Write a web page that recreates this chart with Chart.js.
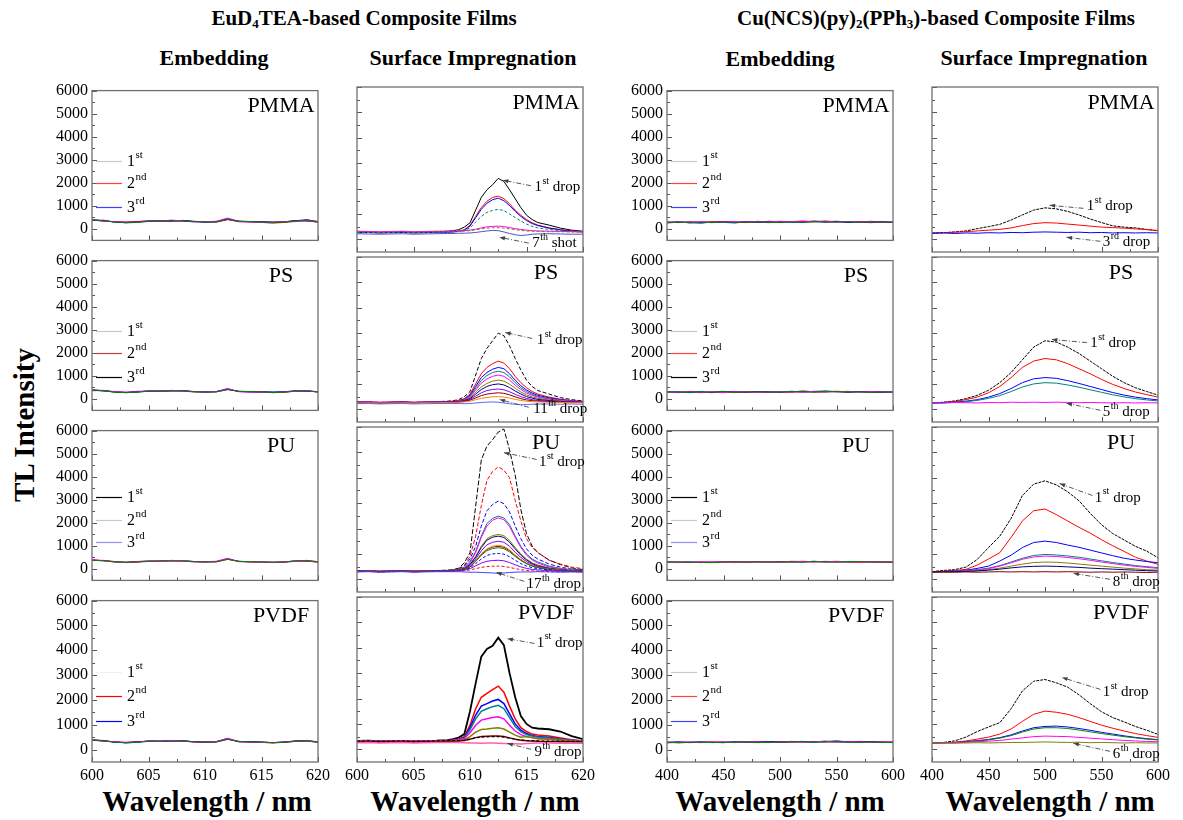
<!DOCTYPE html>
<html>
<head>
<meta charset="utf-8">
<title>TL Intensity of composite films</title>
<script src="https://cdn.jsdelivr.net/npm/chart.js@4.4.1/dist/chart.umd.min.js"></script>
<style>
html,body{margin:0;padding:0;background:#fff;}
body{width:1183px;height:820px;position:relative;overflow:hidden;font-family:"Liberation Serif","Times New Roman",serif;color:#000;}
.lbl{position:absolute;white-space:nowrap;font-weight:bold;transform:translate(-50%,-50%);line-height:1;}
.lbl sub{font-size:0.62em;vertical-align:-0.3em;line-height:0;}
canvas{position:absolute;}
</style>
</head>
<body>
<div class="lbl" style="left:364px;top:18px;font-size:21px">EuD<sub>4</sub>TEA-based Composite Films</div>
<div class="lbl" style="left:936px;top:18px;font-size:21px">Cu(NCS)(py)<sub>2</sub>(PPh<sub>3</sub>)-based Composite Films</div>
<div class="lbl" style="left:214px;top:58px;font-size:22px">Embedding</div>
<div class="lbl" style="left:473px;top:58px;font-size:22px">Surface Impregnation</div>
<div class="lbl" style="left:780px;top:59px;font-size:22px">Embedding</div>
<div class="lbl" style="left:1044px;top:58px;font-size:22px">Surface Impregnation</div>
<div class="lbl" style="left:24px;top:425px;font-size:29px;transform:translate(-50%,-50%) rotate(-90deg)">TL Intensity</div>
<div class="lbl" style="left:207px;top:801px;font-size:29px">Wavelength / nm</div>
<div class="lbl" style="left:475px;top:801px;font-size:29px">Wavelength / nm</div>
<div class="lbl" style="left:780px;top:801px;font-size:29px">Wavelength / nm</div>
<div class="lbl" style="left:1050px;top:801px;font-size:29px">Wavelength / nm</div>
<script>
// ---------------- axis values ----------------
const euEmbX = [600,601,602,603,604,605,606,607,608,609,610,611,612,613,614,615,616,617,618,619,620];
const euX = [600,601,602,603,604,605,606,607,608,608.5,609,609.5,610,610.5,611,611.5,612,612.5,613,613.5,614,614.5,615,615.5,616,617,618,619,620];
const cuX = [400,410,420,430,440,450,460,470,480,490,500,510,520,530,540,550,560,570,580,590,600];
const euTicks = [600,605,610,615,620];
const cuTicks = [400,450,500,550,600];
const yTicks = [0,1000,2000,3000,4000,5000,6000];
const panelNames = ['PMMA','PS','PU','PVDF'];

// ---------------- EuD4TEA, embedding ----------------
const euEmbPMMA_1 = [400,350,300,270,300,330,340,350,360,330,300,310,440,330,310,300,290,300,360,340,300];
const euEmbPMMA_2 = [360,380,290,300,320,340,320,370,340,310,320,300,400,320,300,280,250,280,320,380,320];
const euEmbPMMA_3 = [380,340,310,280,310,350,350,330,370,320,290,320,420,310,320,310,290,310,350,400,310];
const euEmbPMMA_4 = [420,330,320,290,290,340,330,380,350,300,310,330,470,320,300,290,270,310,330,350,290];
const euEmbPMMA_5 = [390,360,300,260,280,320,350,340,330,320,300,290,410,340,320,290,280,290,340,370,300];
const euEmbPS_1 = [390,360,310,280,310,340,330,360,350,320,300,320,430,320,300,310,300,310,350,330,310];
const euEmbPS_2 = [350,370,300,290,330,330,330,360,340,300,310,310,410,330,310,290,270,290,330,360,300];
const euEmbPS_3 = [370,350,300,270,300,340,340,340,360,310,300,310,420,320,310,300,280,300,340,350,300];
const euEmbPS_4 = [410,340,320,280,300,350,330,370,340,310,300,320,450,310,300,300,280,300,330,360,290];
const euEmbPS_5 = [380,350,290,270,290,330,340,350,340,320,290,300,400,330,320,300,270,290,340,350,310];
const euEmbPU_1 = [380,360,300,290,320,340,330,350,360,320,310,320,430,320,310,300,290,300,350,330,300];
const euEmbPU_2 = [360,370,310,280,310,330,340,360,340,310,300,310,410,330,300,290,280,290,330,370,310];
const euEmbPU_3 = [390,340,310,270,300,350,340,340,350,320,290,320,440,310,320,300,270,300,340,360,300];
const euEmbPU_4 = [410,350,300,280,290,340,320,370,350,300,310,330,460,320,300,290,280,310,320,350,290];
const euEmbPU_5 = [370,360,320,280,300,320,350,340,340,320,300,300,420,330,310,300,290,290,350,350,310];
const euEmbPVDF_1 = [400,360,300,280,310,340,330,360,350,320,310,320,440,320,310,300,280,300,350,340,300];
const euEmbPVDF_2 = [370,370,300,290,320,330,330,360,350,310,300,310,420,330,300,290,270,290,330,370,310];
const euEmbPVDF_3 = [380,340,310,270,300,350,340,340,360,310,290,320,430,310,320,300,280,310,340,360,300];
const euEmbPVDF_4 = [410,340,320,290,300,340,330,370,340,300,310,320,460,320,300,290,270,300,330,350,290];
const euEmbPVDF_5 = [390,350,300,270,290,330,350,340,340,320,300,300,410,330,310,300,280,290,340,360,310];

// ---------------- EuD4TEA, surface impregnation ----------------
const euSurfPMMA_1 = [290,300,270,280,300,270,290,300,320,340,380,480,650,1150,1650,1950,2150,2400,2280,1950,1600,1250,950,780,660,560,440,360,320];
const euSurfPMMA_2 = [270,280,260,270,280,260,270,290,290,300,320,380,550,900,1250,1500,1650,1700,1600,1400,1150,950,780,650,560,450,380,330,300];
const euSurfPMMA_3 = [260,270,250,260,270,250,260,280,280,290,310,360,520,850,1180,1420,1560,1620,1520,1330,1100,900,740,620,540,440,370,320,290];
const euSurfPMMA_4 = [280,270,260,270,280,270,280,280,290,300,310,350,450,680,900,1060,1140,1180,1130,1000,860,720,600,510,450,390,340,310,290];
const euSurfPMMA_5 = [320,310,300,310,320,300,310,320,320,330,330,340,360,400,450,490,510,520,500,460,420,390,360,340,330,320,310,300,300];
const euSurfPMMA_6 = [300,290,280,290,300,280,290,300,300,300,310,320,340,370,410,440,455,460,440,410,380,350,330,320,310,300,300,290,280];
const euSurfPMMA_7 = [220,210,200,210,220,200,210,220,230,230,240,240,250,270,300,330,350,340,290,230,180,150,170,200,210,220,210,200,200];

const euSurfPS_1 = [290,300,270,280,300,270,290,300,320,340,380,500,700,1350,2000,2400,2700,3000,2900,2500,2000,1550,1150,900,740,600,460,380,330];
const euSurfPS_2 = [280,290,270,280,290,270,280,290,300,320,350,420,600,1000,1400,1650,1800,1900,1820,1600,1300,1050,850,700,600,480,400,340,310];
const euSurfPS_3 = [270,280,260,270,280,260,270,280,290,300,330,400,550,900,1250,1450,1580,1650,1600,1400,1150,930,760,640,550,450,380,330,300];
const euSurfPS_4 = [280,270,260,270,280,270,280,280,290,300,320,380,520,830,1130,1330,1450,1500,1450,1280,1050,850,700,590,510,420,360,320,290];
const euSurfPS_5 = [300,290,280,290,300,280,290,300,300,310,320,370,490,760,1030,1200,1300,1350,1300,1150,950,780,640,550,480,400,350,320,300];
const euSurfPS_6 = [290,280,270,280,290,270,280,290,290,300,310,350,450,680,880,1020,1110,1150,1110,990,830,680,570,490,430,370,330,310,290];
const euSurfPS_7 = [280,270,260,270,280,260,270,280,280,290,300,340,420,600,780,900,970,1000,960,860,720,600,500,440,390,340,310,290,280];
const euSurfPS_8 = [270,280,260,270,280,270,280,280,290,290,300,330,390,520,650,740,780,800,770,690,590,500,430,380,350,320,300,290,280];
const euSurfPS_9 = [260,270,250,260,270,260,270,270,280,280,290,310,360,450,540,600,630,650,630,570,490,420,370,340,320,300,290,280,270];
const euSurfPS_10 = [250,260,250,250,260,250,260,260,270,270,280,290,320,380,430,470,490,500,480,440,390,350,320,300,290,280,270,260,260];
const euSurfPS_11 = [220,230,210,220,230,210,220,230,230,230,230,220,230,250,270,280,290,280,250,220,200,180,190,200,210,210,200,210,200];

const euSurfPU_1 = [340,330,320,330,340,320,330,340,360,380,440,650,1050,2880,4700,5250,5500,5800,5920,5100,4100,2750,1800,1310,1050,760,580,450,380];
const euSurfPU_2 = [330,320,320,330,330,320,330,340,350,370,420,560,900,1700,2900,3900,4250,4430,4300,4000,3100,2300,1600,1250,1050,750,600,480,420];
const euSurfPU_3 = [320,330,310,320,330,310,320,330,340,360,400,520,800,1300,2100,2700,2950,3080,2980,2650,2100,1600,1200,950,800,600,480,400,360];
const euSurfPU_4 = [330,320,310,320,330,320,330,340,350,360,390,480,700,1100,1700,2200,2400,2490,2420,2150,1700,1300,1000,800,680,520,430,380,350];
const euSurfPU_5 = [310,320,300,310,320,300,310,320,330,340,370,450,650,1050,1650,2100,2330,2420,2350,2080,1650,1250,950,760,640,490,410,360,330];
const euSurfPU_6 = [340,330,320,330,340,330,340,350,350,360,380,440,600,900,1300,1600,1720,1770,1720,1530,1250,1000,800,650,560,450,390,360,340];
const euSurfPU_7 = [320,310,300,310,320,300,310,320,330,340,360,420,580,870,1250,1540,1660,1700,1650,1460,1200,950,760,620,530,430,370,340,320];
const euSurfPU_8 = [330,320,310,320,330,310,320,330,340,350,370,420,540,800,1120,1360,1460,1500,1460,1300,1070,860,700,580,500,420,370,340,330];
const euSurfPU_9 = [320,330,310,320,330,320,330,330,340,350,360,400,500,720,980,1180,1270,1300,1260,1130,940,770,630,530,470,400,360,340,320];
const euSurfPU_10 = [310,320,300,310,320,310,320,320,330,340,350,390,490,730,1000,1200,1300,1340,1300,1160,960,780,640,540,470,400,360,330,310];
const euSurfPU_11 = [330,320,310,320,330,310,320,330,340,350,360,400,490,700,950,1130,1210,1245,1210,1080,900,740,610,520,460,390,350,330,320];
const euSurfPU_12 = [320,310,300,310,320,300,310,320,330,330,340,370,450,620,800,940,1000,1020,990,890,750,620,520,460,420,370,340,320,310];
const euSurfPU_13 = [310,320,300,310,320,300,310,320,320,330,340,360,420,530,640,710,740,750,730,660,570,490,430,390,370,340,320,310,300];
const euSurfPU_14 = [300,310,290,300,310,300,310,310,320,320,330,340,370,420,470,500,515,520,505,470,420,380,350,330,320,310,300,300,290];
const euSurfPU_17 = [290,300,280,290,300,280,290,300,300,300,300,290,280,280,270,260,250,235,250,270,280,290,290,290,300,290,280,290,280];

const euSurfPVDF_1 = [330,340,320,330,320,310,330,340,360,400,460,600,1500,2600,3650,3950,4080,4400,4100,3000,2050,1310,1000,850,820,790,700,520,400];
const euSurfPVDF_2 = [320,330,310,320,330,300,320,330,340,360,400,500,950,1600,2050,2200,2350,2490,2250,1700,1200,850,700,600,560,520,450,380,330];
const euSurfPVDF_3 = [310,320,300,310,320,290,310,320,330,350,380,470,850,1350,1700,1800,1900,1965,1800,1400,1000,750,620,540,500,470,410,360,320];
const euSurfPVDF_4 = [330,320,310,320,330,310,320,330,340,350,380,450,780,1200,1500,1600,1680,1730,1600,1250,900,700,580,520,480,450,400,360,330];
const euSurfPVDF_5 = [340,330,320,330,340,320,330,340,350,360,380,430,650,950,1150,1200,1250,1285,1200,950,720,580,500,460,430,410,370,340,320];
const euSurfPVDF_6 = [310,320,300,310,320,300,310,320,330,340,350,380,500,680,780,800,830,850,800,680,560,480,500,460,420,400,370,340,320];
const euSurfPVDF_7 = [300,310,290,300,310,290,300,310,320,320,330,350,400,460,500,510,520,525,500,450,400,360,340,330,320,310,300,300,290];
const euSurfPVDF_8 = [320,330,310,320,330,310,320,330,330,340,340,360,400,450,480,490,500,500,480,440,400,370,350,340,330,320,320,310,310];
const euSurfPVDF_9 = [260,270,250,260,270,250,260,270,270,270,270,260,250,250,240,250,250,240,230,220,220,210,230,240,250,250,240,250,240];

// ---------------- Cu complex, embedding ----------------
const cuEmbPMMA_1 = [280,310,260,300,270,320,290,310,280,330,300,320,290,340,310,330,300,320,290,310,280];
const cuEmbPMMA_2 = [300,270,310,280,320,290,300,270,330,300,280,320,330,300,340,310,320,290,330,300,290];
const cuEmbPMMA_3 = [260,290,270,250,300,280,260,300,290,270,310,290,300,320,290,310,280,300,270,290,300];
const cuEmbPMMA_4 = [290,300,280,310,290,300,320,290,310,300,330,310,340,320,330,300,320,310,300,290,310];
const cuEmbPMMA_5 = [270,280,300,270,280,300,270,290,300,280,290,300,280,310,300,290,310,280,290,300,280];
const cuEmbPS_1 = [290,300,270,310,280,300,320,290,300,310,290,330,300,320,340,310,300,320,310,290,300];
const cuEmbPS_2 = [270,300,290,270,310,290,280,310,290,320,300,290,320,300,310,330,310,300,290,310,280];
const cuEmbPS_3 = [300,280,310,290,270,310,300,280,320,290,310,300,340,310,300,320,290,310,300,280,300];
const cuEmbPS_4 = [280,270,300,280,300,270,310,300,280,300,320,310,290,330,320,300,330,290,320,300,290];
const cuEmbPS_5 = [310,290,280,300,290,320,280,300,310,290,300,320,310,290,330,320,300,310,280,310,290];
const cuEmbPU_1 = [300,280,310,270,300,290,310,280,300,320,290,310,300,330,300,320,290,310,300,290,300];
const cuEmbPU_2 = [280,300,270,300,280,310,290,300,320,290,310,300,330,310,320,300,320,290,310,300,280];
const cuEmbPU_3 = [290,270,300,290,310,280,300,290,280,310,320,290,310,300,330,310,300,320,290,310,300];
const cuEmbPU_4 = [270,290,280,310,290,300,270,310,300,300,290,330,320,300,310,330,310,300,320,290,310];
const cuEmbPU_5 = [310,300,290,280,270,300,310,290,310,290,310,300,290,320,300,290,320,310,300,300,290];
const cuEmbPVDF_1 = [290,310,280,300,290,280,310,300,290,320,300,310,330,300,320,350,310,300,320,300,290];
const cuEmbPVDF_2 = [300,280,300,280,310,300,290,310,300,290,320,300,310,330,300,320,330,310,300,290,310];
const cuEmbPVDF_3 = [280,300,290,310,280,300,300,290,320,300,310,330,300,310,340,310,300,330,310,300,290];
const cuEmbPVDF_4 = [270,290,310,290,300,310,280,300,310,280,300,320,310,320,330,300,320,310,290,310,300];
const cuEmbPVDF_5 = [300,270,290,300,290,280,300,310,280,300,290,310,320,300,310,320,300,290,310,290,280];

// ---------------- Cu complex, surface impregnation ----------------
const cuSurfPMMA_1 = [240,260,290,330,420,500,590,760,960,1150,1240,1200,1100,960,800,660,530,480,450,390,330];
const cuSurfPMMA_2 = [250,260,280,300,330,360,390,450,540,620,655,640,600,560,520,480,460,440,410,380,350];
const cuSurfPMMA_3 = [240,250,230,250,240,260,250,270,260,280,290,280,270,280,260,270,250,260,250,260,250];
const cuSurfPS_1 = [250,280,330,420,550,750,1050,1450,1950,2450,2700,2650,2450,2200,1900,1600,1300,1050,850,700,560];
const cuSurfPS_2 = [250,270,310,380,480,650,900,1250,1650,1900,2000,1950,1800,1600,1400,1180,980,820,680,580,480];
const cuSurfPS_3 = [250,260,280,320,380,480,620,820,1050,1200,1250,1220,1130,1020,900,780,660,560,480,420,370];
const cuSurfPS_4 = [240,250,270,300,350,430,540,700,880,1000,1050,1030,960,870,770,670,570,490,420,370,330];
const cuSurfPS_5 = [260,250,270,260,250,270,260,280,270,280,270,280,270,260,270,260,250,260,250,260,250];
const cuSurfPU_1 = [300,350,380,480,780,1250,1700,2400,3300,3750,3880,3720,3450,3100,2600,2150,1800,1550,1300,1110,850];
const cuSurfPU_2 = [300,320,350,390,560,800,1050,1650,2300,2700,2770,2550,2300,2050,1820,1560,1320,1100,870,720,590];
const cuSurfPU_3 = [300,310,330,360,430,520,720,950,1250,1450,1505,1450,1350,1260,1150,1040,930,830,760,700,655];
const cuSurfPU_4 = [300,310,320,340,380,440,540,680,830,940,980,960,920,870,800,730,660,600,540,500,460];
const cuSurfPU_5 = [290,300,310,330,370,420,520,650,790,880,915,900,860,810,750,680,620,560,510,470,430];
const cuSurfPU_6 = [290,300,300,320,340,380,440,520,600,660,680,670,640,600,560,520,480,440,410,380,360];
const cuSurfPU_7 = [300,290,300,310,330,360,400,450,490,510,520,510,490,470,440,420,400,380,360,340,330];
const cuSurfPU_8 = [280,290,280,290,280,290,300,290,300,290,300,290,300,290,280,290,280,290,280,270,280];
const cuSurfPVDF_1 = [250,270,330,480,700,880,1050,1600,2300,2680,2750,2620,2450,2150,1800,1480,1250,1080,900,750,590];
const cuSurfPVDF_2 = [250,260,280,330,400,480,600,800,1100,1380,1505,1460,1380,1250,1100,950,830,720,620,540,470];
const cuSurfPVDF_3 = [250,260,270,300,340,390,460,570,720,850,900,915,880,820,750,670,600,530,470,420,380];
const cuSurfPVDF_4 = [240,250,260,290,330,370,440,540,680,800,850,850,820,760,690,620,560,500,450,400,370];
const cuSurfPVDF_5 = [250,260,260,280,300,320,350,400,450,500,520,510,500,470,440,410,380,350,330,310,300];
const cuSurfPVDF_6 = [240,250,240,250,260,250,260,270,270,280,290,280,270,280,260,270,260,250,260,250,250];

// ---------------- layout & styles ----------------
const FONT = '"Liberation Serif","Times New Roman",serif';
Chart.defaults.font.family = FONT;
Chart.defaults.color = '#000';
const COLS = [92, 357, 667, 932], ROWS = [87, 257, 427, 597], PW = 226, PH = 165;

function S(xs, ys, color, width, dash) {
  return { data: xs.map((x, i) => ({ x: x, y: ys[i] })), borderColor: color, borderWidth: width || 1,
    borderDash: dash || [], pointRadius: 0, fill: false, tension: 0 };
}
const embLegendHi = [2950, 1970, 970], embLegendLo = [3120, 2140, 1160];

const panels = [
  // ---- EuD4TEA embedding ----
  { col:0, row:0, xr:[600,620], xt:euTicks, sets:[
      S(euEmbX,euEmbPMMA_5,'#008000'), S(euEmbX,euEmbPMMA_4,'#ff00ff'), S(euEmbX,euEmbPMMA_1,'#000080'),
      S(euEmbX,euEmbPMMA_2,'#ff0000'), S(euEmbX,euEmbPMMA_3,'#0000ff')],
    legend:[['1','st','#c8c8c8'],['2','nd','#ff4040'],['3','rd','#4040ff']], ly:embLegendHi, notes:[] },
  { col:0, row:1, xr:[600,620], xt:euTicks, sets:[
      S(euEmbX,euEmbPS_5,'#008000'), S(euEmbX,euEmbPS_4,'#ff00ff'), S(euEmbX,euEmbPS_1,'#0000ff'),
      S(euEmbX,euEmbPS_2,'#c04040'), S(euEmbX,euEmbPS_3,'#000000')],
    legend:[['1','st','#c8c8c8'],['2','nd','#c04040'],['3','rd','#000000']], ly:embLegendHi, notes:[] },
  { col:0, row:2, xr:[600,620], xt:euTicks, sets:[
      S(euEmbX,euEmbPU_5,'#008000'), S(euEmbX,euEmbPU_4,'#ff00ff'), S(euEmbX,euEmbPU_2,'#ff0000'),
      S(euEmbX,euEmbPU_3,'#8080ff'), S(euEmbX,euEmbPU_1,'#000000')],
    legend:[['1','st','#000000'],['2','nd','#c8c8c8'],['3','rd','#9090ff']], ly:embLegendLo, notes:[] },
  { col:0, row:3, xr:[600,620], xt:euTicks, sets:[
      S(euEmbX,euEmbPVDF_5,'#008000'), S(euEmbX,euEmbPVDF_4,'#ff00ff'), S(euEmbX,euEmbPVDF_1,'#000080'),
      S(euEmbX,euEmbPVDF_2,'#ff0000'), S(euEmbX,euEmbPVDF_3,'#0000ff')],
    legend:[['1','st','#f0f0f0'],['2','nd','#ff0000'],['3','rd','#0000ff']], ly:embLegendLo, notes:[] },
  // ---- EuD4TEA surface ----
  { col:1, row:0, xr:[600,620], xt:euTicks, sets:[
      S(euX,euSurfPMMA_7,'#5050d0'), S(euX,euSurfPMMA_6,'#808000',1,[3,2]), S(euX,euSurfPMMA_5,'#ff00ff'),
      S(euX,euSurfPMMA_4,'#008080',1,[3,2]), S(euX,euSurfPMMA_3,'#0000ff'), S(euX,euSurfPMMA_2,'#ff0000'),
      S(euX,euSurfPMMA_1,'#000000')],
    legend:[], notes:[['1','st',' drop',615.7,2040,615.4,2110,612.9,2330],['7','th',' shot',615.5,-160,615.2,-150,612.6,80]] },
  { col:1, row:1, xr:[600,620], xt:euTicks, sets:[
      S(euX,euSurfPS_11,'#6060ff'), S(euX,euSurfPS_10,'#ff8000'), S(euX,euSurfPS_9,'#800000'),
      S(euX,euSurfPS_8,'#8000ff'), S(euX,euSurfPS_7,'#000080'), S(euX,euSurfPS_6,'#808000'),
      S(euX,euSurfPS_5,'#ff00ff'), S(euX,euSurfPS_4,'#008080'), S(euX,euSurfPS_3,'#0000ff'),
      S(euX,euSurfPS_2,'#ff0000'), S(euX,euSurfPS_1,'#000000',1,[4,2])],
    legend:[], notes:[['1','st',' drop',615.9,2710,615.5,2790,613.1,3030],['11','th',' drop',615.6,0,615.2,80,612.6,390]] },
  { col:1, row:2, xr:[600,620], xt:euTicks, sets:[
      S(euX,euSurfPU_17,'#4040ff'), S(euX,euSurfPU_14,'#ff0000',1,[3,2]), S(euX,euSurfPU_13,'#8000ff'),
      S(euX,euSurfPU_12,'#0000ff',1,[3,2]), S(euX,euSurfPU_11,'#008000'), S(euX,euSurfPU_10,'#ff8000'),
      S(euX,euSurfPU_9,'#800000'), S(euX,euSurfPU_8,'#8000ff'), S(euX,euSurfPU_7,'#000080'),
      S(euX,euSurfPU_6,'#808000'), S(euX,euSurfPU_5,'#ff00ff'), S(euX,euSurfPU_4,'#008080'),
      S(euX,euSurfPU_3,'#0000ff',1,[4,2]), S(euX,euSurfPU_2,'#ff0000',1,[4,2]), S(euX,euSurfPU_1,'#000000',1,[5,2])],
    legend:[], notes:[['1','st',' drop',616.1,4600,615.9,4720,613.0,4990],['17','th',' drop',615.0,-200,614.8,-80,612.3,275]] },
  { col:1, row:3, xr:[600,620], xt:euTicks, sets:[
      S(euX,euSurfPVDF_9,'#ff60b0',1.5), S(euX,euSurfPVDF_8,'#000000',1.2,[3,2]), S(euX,euSurfPVDF_7,'#800000',1.5),
      S(euX,euSurfPVDF_6,'#808000',1.5), S(euX,euSurfPVDF_5,'#ff00ff',1.5), S(euX,euSurfPVDF_4,'#008080',1.5),
      S(euX,euSurfPVDF_3,'#0000ff',1.5), S(euX,euSurfPVDF_2,'#ff0000',1.5), S(euX,euSurfPVDF_1,'#000000',1.8)],
    legend:[], notes:[['1','st',' drop',615.9,4200,615.7,4170,613.3,4360],['9','th',' drop',615.7,-120,615.4,0,613.3,235]] },
  // ---- Cu embedding ----
  { col:2, row:0, xr:[400,600], xt:cuTicks, sets:[
      S(cuX,cuEmbPMMA_5,'#008000'), S(cuX,cuEmbPMMA_4,'#ff00ff'), S(cuX,cuEmbPMMA_1,'#000080'),
      S(cuX,cuEmbPMMA_2,'#ff0000'), S(cuX,cuEmbPMMA_3,'#0000ff')],
    legend:[['1','st','#c8c8c8'],['2','nd','#ff4040'],['3','rd','#4040ff']], ly:embLegendHi, notes:[] },
  { col:2, row:1, xr:[400,600], xt:cuTicks, sets:[
      S(cuX,cuEmbPS_5,'#008000'), S(cuX,cuEmbPS_4,'#ff00ff'), S(cuX,cuEmbPS_1,'#0000ff'),
      S(cuX,cuEmbPS_2,'#ff0000'), S(cuX,cuEmbPS_3,'#000000')],
    legend:[['1','st','#c8c8c8'],['2','nd','#ff4040'],['3','rd','#000000']], ly:embLegendHi, notes:[] },
  { col:2, row:2, xr:[400,600], xt:cuTicks, sets:[
      S(cuX,cuEmbPU_5,'#008000'), S(cuX,cuEmbPU_4,'#ff00ff'), S(cuX,cuEmbPU_2,'#ff0000'),
      S(cuX,cuEmbPU_3,'#8080ff'), S(cuX,cuEmbPU_1,'#000000')],
    legend:[['1','st','#000000'],['2','nd','#c8c8c8'],['3','rd','#9090ff']], ly:embLegendLo, notes:[] },
  { col:2, row:3, xr:[400,600], xt:cuTicks, sets:[
      S(cuX,cuEmbPVDF_5,'#008000'), S(cuX,cuEmbPVDF_4,'#ff00ff'), S(cuX,cuEmbPVDF_1,'#000080'),
      S(cuX,cuEmbPVDF_2,'#ff0000'), S(cuX,cuEmbPVDF_3,'#0000ff')],
    legend:[['1','st','#c8c8c8'],['2','nd','#ff4040'],['3','rd','#4040ff']], ly:embLegendLo, notes:[] },
  // ---- Cu surface ----
  { col:3, row:0, xr:[400,600], xt:cuTicks, sets:[
      S(cuX,cuSurfPMMA_3,'#0000ff'), S(cuX,cuSurfPMMA_2,'#ff0000'), S(cuX,cuSurfPMMA_1,'#000000',1,[3,1])],
    legend:[], notes:[['1','st',' drop',537,1300,534,1220,504,1340],['3','rd',' drop',551,-120,549,-80,519,80]] },
  { col:3, row:1, xr:[400,600], xt:cuTicks, sets:[
      S(cuX,cuSurfPS_5,'#ff00ff'), S(cuX,cuSurfPS_4,'#008080'), S(cuX,cuSurfPS_3,'#0000ff'),
      S(cuX,cuSurfPS_2,'#ff0000'), S(cuX,cuSurfPS_1,'#000000',1,[3,1])],
    legend:[], notes:[['1','st',' drop',540,2600,537,2630,506,2750],['5','th',' drop',551,-120,549,-40,519,240]] },
  { col:3, row:2, xr:[400,600], xt:cuTicks, sets:[
      S(cuX,cuSurfPU_8,'#800000'), S(cuX,cuSurfPU_7,'#000080'), S(cuX,cuSurfPU_6,'#808000'),
      S(cuX,cuSurfPU_5,'#ff00ff'), S(cuX,cuSurfPU_4,'#008080'), S(cuX,cuSurfPU_3,'#0000ff'),
      S(cuX,cuSurfPU_2,'#ff0000'), S(cuX,cuSurfPU_1,'#000000',1,[3,1])],
    legend:[], notes:[['1','st',' drop',544,3220,542,3300,513,3770],['8','th',' drop',560,-120,557.5,0,525,235]] },
  { col:3, row:3, xr:[400,600], xt:cuTicks, sets:[
      S(cuX,cuSurfPVDF_6,'#808000'), S(cuX,cuSurfPVDF_5,'#ff00ff'), S(cuX,cuSurfPVDF_4,'#008000'),
      S(cuX,cuSurfPVDF_3,'#0000ff'), S(cuX,cuSurfPVDF_2,'#ff0000'), S(cuX,cuSurfPVDF_1,'#000000',1,[3,1])],
    legend:[], notes:[['1','st',' drop',551,2240,549,2360,515,2830],['6','th',' drop',560,-200,557.5,-80,525,235]] }
];

function supText(ctx, x, y, main, sup, rest, size) {
  ctx.textAlign = 'left'; ctx.textBaseline = 'middle'; ctx.fillStyle = '#000';
  ctx.font = size + 'px ' + FONT; ctx.fillText(main, x, y);
  let w = ctx.measureText(main).width;
  const ss = Math.round(size * 0.68);
  ctx.font = ss + 'px ' + FONT; ctx.fillText(sup, x + w + 0.5, y - size * 0.42);
  w += ctx.measureText(sup).width + 0.5;
  if (rest) { ctx.font = size + 'px ' + FONT; ctx.fillText(rest, x + w, y); }
}
function arrow(ctx, x1, y1, x2, y2) {
  ctx.save();
  ctx.strokeStyle = '#444'; ctx.fillStyle = '#444'; ctx.lineWidth = 0.9;
  ctx.setLineDash([5, 2, 1, 2]);
  ctx.beginPath(); ctx.moveTo(x1, y1); ctx.lineTo(x2, y2); ctx.stroke();
  ctx.setLineDash([]);
  const a = Math.atan2(y2 - y1, x2 - x1), L = 6;
  ctx.beginPath(); ctx.moveTo(x2, y2);
  ctx.lineTo(x2 - L * Math.cos(a - 0.35), y2 - L * Math.sin(a - 0.35));
  ctx.lineTo(x2 - L * Math.cos(a + 0.35), y2 - L * Math.sin(a + 0.35));
  ctx.closePath(); ctx.fill();
  ctx.restore();
}

function decoPlugin(p) {
  return { id: 'deco', afterDraw(chart) {
    const ctx = chart.ctx, a = chart.chartArea, xs = chart.scales.x, ys = chart.scales.y;
    ctx.save();
    ctx.strokeStyle = '#555'; ctx.lineWidth = 1;
    ctx.beginPath();
    const xv = xs.ticks.map(t => t.value);
    xv.forEach((v, i) => {
      const px = Math.round(xs.getPixelForValue(v)) + 0.5;
      ctx.moveTo(px, a.bottom); ctx.lineTo(px, a.bottom - 5);
      if (i < xv.length - 1) {
        const m = Math.round(xs.getPixelForValue((v + xv[i + 1]) / 2)) + 0.5;
        ctx.moveTo(m, a.bottom); ctx.lineTo(m, a.bottom - 3);
      }
    });
    const yv = ys.ticks.map(t => t.value);
    yv.forEach((v, i) => {
      const py = Math.round(ys.getPixelForValue(v)) + 0.5;
      ctx.moveTo(a.left, py); ctx.lineTo(a.left + 5, py);
      if (i < yv.length - 1) {
        const m = Math.round(ys.getPixelForValue((v + yv[i + 1]) / 2)) + 0.5;
        ctx.moveTo(a.left, m); ctx.lineTo(a.left + 3, m);
      }
    });
    ctx.stroke();
    ctx.strokeStyle = '#707070'; ctx.lineWidth = 1.3;
    ctx.strokeRect(a.left, a.top, a.right - a.left, a.bottom - a.top);
    ctx.fillStyle = '#000'; ctx.font = '22px ' + FONT; ctx.textAlign = 'center'; ctx.textBaseline = 'middle';
    ctx.fillText(panelNames[p.row], a.right - 37, a.top + 16);
    p.legend.forEach((e, i) => {
      const y = Math.round(ys.getPixelForValue(p.ly[i])) + 0.5;
      ctx.strokeStyle = e[2]; ctx.lineWidth = 1.2;
      ctx.beginPath(); ctx.moveTo(a.left + 4, y); ctx.lineTo(a.left + 30, y); ctx.stroke();
      supText(ctx, a.left + 35, y, e[0], e[1], '', 16);
    });
    p.notes.forEach(n => {
      arrow(ctx, xs.getPixelForValue(n[5]), ys.getPixelForValue(n[6]), xs.getPixelForValue(n[7]), ys.getPixelForValue(n[8]));
      supText(ctx, xs.getPixelForValue(n[3]), ys.getPixelForValue(n[4]), n[0], n[1], n[2], 15);
    });
    ctx.restore();
  }};
}

panels.forEach(p => {
  const L = 44, T = 10, R = 18, B = 2, xH = p.row === 3 ? 26 : 0;
  const w = L + PW + R, h = T + PH + xH + B;
  const c = document.createElement('canvas');
  c.width = w; c.height = h;
  c.style.left = (COLS[p.col] - L) + 'px'; c.style.top = (ROWS[p.row] - T) + 'px';
  c.style.width = w + 'px'; c.style.height = h + 'px';
  document.body.appendChild(c);
  new Chart(c, {
    type: 'line',
    data: { datasets: p.sets },
    options: {
      responsive: false, devicePixelRatio: 1, animation: false, events: [],
      layout: { padding: { left: 0, top: T, right: R, bottom: B } },
      plugins: { legend: { display: false }, tooltip: { enabled: false } },
      scales: {
        x: { type: 'linear', min: p.xr[0], max: p.xr[1],
          afterBuildTicks: s => { s.ticks = p.xt.map(v => ({ value: v })); },
          afterFit: s => { s.height = xH; },
          grid: { display: false, drawTicks: false }, border: { display: false },
          ticks: { display: p.row === 3, padding: 4, maxRotation: 0, autoSkip: false, color: '#000',
            font: { family: FONT, size: 16 }, callback: v => String(v) } },
        y: { type: 'linear', min: -500, max: 6000,
          afterBuildTicks: s => { s.ticks = yTicks.map(v => ({ value: v })); },
          afterFit: s => { s.width = L; },
          grid: { display: false, drawTicks: false }, border: { display: false },
          ticks: { display: p.col === 0 || p.col === 2, padding: 4, color: '#000',
            font: { family: FONT, size: 16 }, callback: v => String(v) } }
      }
    },
    plugins: [decoPlugin(p)]
  });
});
</script>
</body>
</html>
